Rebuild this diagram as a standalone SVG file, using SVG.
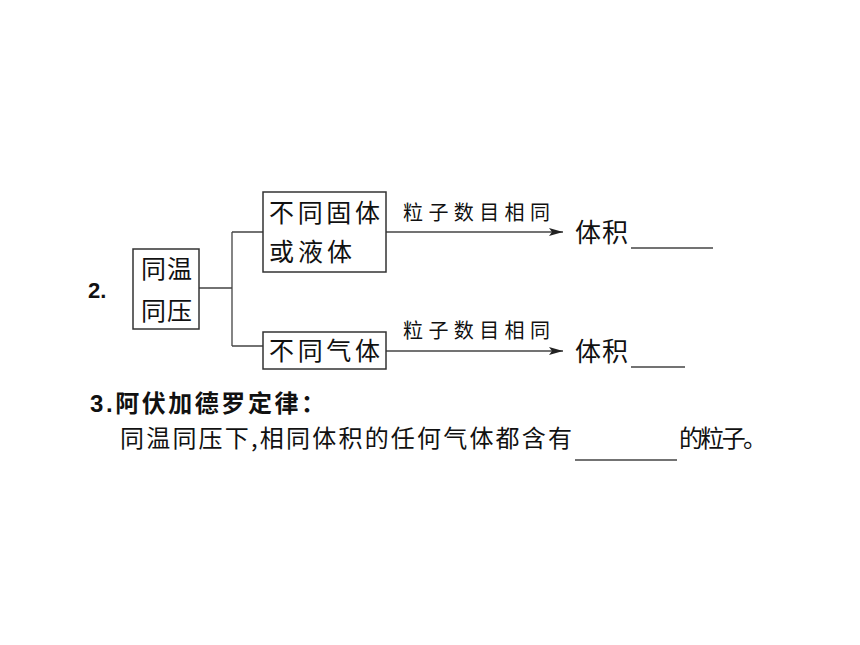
<svg xmlns="http://www.w3.org/2000/svg" width="860" height="645" viewBox="0 0 860 645">
<style>
.box{fill:#fff;stroke:#333;stroke-width:1.5}
.ln{fill:none;stroke:#444;stroke-width:1.3}
.t{font-family:"Noto Sans CJK SC","Noto Sans CJK JP",sans-serif;fill:#111}
.b{font-family:"Liberation Sans","Noto Sans CJK SC",sans-serif;font-weight:bold;fill:#111}
</style>
<defs>
<marker id="ah" viewBox="0 0 14 8" refX="14" refY="4" markerWidth="14" markerHeight="8" markerUnits="userSpaceOnUse" orient="auto">
<path d="M0,0 L14,4 L0,8 L3,4 Z" fill="#222"/>
</marker>
</defs>
<rect width="860" height="645" fill="#fff"/>
<text class="b" x="88" y="298" font-size="22">2.</text>
<g id="connectors">
<path class="ln" d="M199,288 H232 M232,232 V346 M232,232 H263 M232,346 H263"/>
<line class="ln" x1="386" y1="232" x2="563" y2="232" marker-end="url(#ah)"/>
<line class="ln" x1="386" y1="351" x2="563" y2="351" marker-end="url(#ah)"/>
<text class="t" x="403" y="220" font-size="20" textLength="147">粒子数目相同</text>
<text class="t" x="403" y="338" font-size="20" textLength="147">粒子数目相同</text>
</g>
<g id="node-tongwen">
<rect class="box" x="133" y="249" width="66" height="80"/>
<text class="t" x="141" y="278" font-size="25" textLength="51">同温</text>
<text class="t" x="141" y="320" font-size="25" textLength="51">同压</text>
</g>
<g id="node-solid">
<rect class="box" x="263" y="192" width="123" height="80"/>
<text class="t" x="269" y="222" font-size="25" textLength="111">不同固体</text>
<text class="t" x="269" y="261" font-size="25" textLength="83">或液体</text>
</g>
<g id="node-gas">
<rect class="box" x="263" y="332" width="123" height="37"/>
<text class="t" x="269" y="360" font-size="25" textLength="111">不同气体</text>
</g>
<g id="node-vol1">
<text class="t" x="575" y="242" font-size="26" textLength="53">体积</text>
<line class="ln" x1="631" y1="248" x2="713" y2="248"/>
</g>
<g id="node-vol2">
<text class="t" x="575" y="361" font-size="26" textLength="53">体积</text>
<line class="ln" x1="631" y1="367" x2="685" y2="367"/>
</g>
<text class="b" x="90" y="412" font-size="24" textLength="235">3.阿伏加德罗定律：</text>
<text class="t" x="120" y="447" font-size="24" textLength="452">同温同压下,相同体积的任何气体都含有</text>
<line class="ln" x1="575" y1="460" x2="677" y2="460"/>
<text class="t" x="679" y="447" font-size="24" textLength="88">的粒子。</text>
</svg>
